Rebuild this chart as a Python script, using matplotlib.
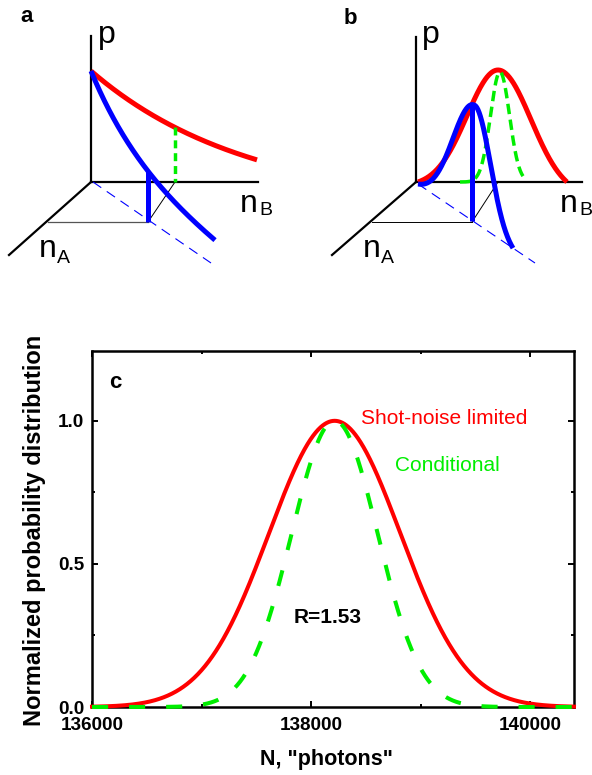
import numpy as np
import matplotlib
matplotlib.use("Agg")
import matplotlib.pyplot as plt

plt.rcParams['font.family'] = ['Liberation Sans', 'DejaVu Sans']

# ---------------- panel c data ----------------
photon_range = [136000, 140400]
shot_center = 138215
shot_sigma = 600
cond_center = 138215
cond_sigma = 392
xticks_major = [136000, 138000, 140000]
xtick_labels = ['136000', '138000', '140000']
xticks_minor = [137000, 139000]
yticks_major = [0.0, 0.5, 1.0]
ytick_labels = ['0.0', '0.5', '1.0']
yticks_minor = [0.25, 0.75]
series_names = ['Shot-noise limited', 'Conditional']
ratio_label = 'R=1.53'

# ---------------- sketch geometry (figure pixels) ----------------
# panel a
a_origin = [91, 182]
a_p_top = [91, 36]
a_nB_end = [258, 182]
a_nA_end = [9, 255]
a_red_x = [91, 257]
a_red_decay = [136.3, 0.00636, -25.3]      # amplitude, rate, offset
a_blue_x = [91, 215]
a_blue_decay = [93.4, 0.0186, 17.6]
a_blue_base_slope = 0.686
a_blue_dash = [[93, 211], [182, 263]]
a_blue_bar_x = 148
a_blue_bar_bottom = 222
a_green_bar_x = 175
a_gray_line = [[48, 148], [222, 222]]
a_thin_line = [[148, 175], [222, 182]]

# panel b
b_origin = [416, 182]
b_p_top = [416, 37]
b_nB_end = [582, 182]
b_nA_end = [332, 255]
b_red = [498, 112, 31, 33, 418, 567]       # centre, height, sigma left, sigma right, start, end
b_green = [500, 110, 9.5, 460, 523]       # centre, height, sigma, start, end
b_blue = [475, 117, 22, 15.5, 418, 513]
b_blue_base = [418, 184, 0.675]
b_blue_dash = [[418, 535], [184, 263]]
b_blue_bar_x = 472
b_blue_bar_bottom = 221
b_thin_h = [[372, 472], [222, 222]]
b_thin_d = [[472, 498], [222, 182]]

W, H = 592, 775
fig = plt.figure(figsize=(W / 100, H / 100), dpi=100)

# ---------------- sketches ----------------
sk = fig.add_axes([0, 0, 1, 1])
sk.set_xlim(0, W)
sk.set_ylim(H, 0)
sk.axis('off')

RED = '#ff0000'
BLUE = '#0000ff'
GREEN = '#00ee00'
AX_LW = 1.6
THICK = 3.6


def bump(x, c, amp, sl, sr, x0, x1):
    s = np.where(x < c, sl, sr)
    g = np.exp(-(x - c) ** 2 / (2 * s ** 2))
    gl = np.exp(-(x0 - c) ** 2 / (2 * sl ** 2))
    gr = np.exp(-(x1 - c) ** 2 / (2 * sr ** 2))
    ge = np.where(x < c, gl, gr)
    return amp * np.clip((g - ge) / (1 - ge), 0, None)


def axes3d(origin, ptop, nb, na):
    sk.plot([origin[0], ptop[0]], [origin[1], ptop[1]], color='k', lw=AX_LW, zorder=2)
    sk.plot([origin[0], nb[0]], [origin[1], nb[1]], color='k', lw=AX_LW, zorder=2)
    sk.plot([origin[0], na[0]], [origin[1], na[1]], color='k', lw=AX_LW, zorder=2)


def axis_labels(px, nbx, nax):
    sk.text(px, 43, 'p', fontsize=23, ha='left', va='baseline')
    sk.text(nbx, 212, 'n', fontsize=23, ha='left', va='baseline')
    sk.text(nbx + 19, 215, 'B', fontsize=14, ha='left', va='baseline')
    sk.text(nax, 257, 'n', fontsize=23, ha='left', va='baseline')
    sk.text(nax + 18, 263, 'A', fontsize=14, ha='left', va='baseline')


# panel a
axes3d(a_origin, a_p_top, a_nB_end, a_nA_end)
sk.plot(*a_gray_line, color='#555555', lw=0.9, zorder=2)
sk.plot(*a_thin_line, color='k', lw=0.7, zorder=2)
sk.plot(*a_blue_dash, color=BLUE, lw=0.8, ls=(0, (9, 6)), zorder=2)

xr = np.linspace(a_red_x[0], a_red_x[1], 300)
yr = a_origin[1] - (a_red_decay[0] * np.exp(-a_red_decay[1] * (xr - a_origin[0])) + a_red_decay[2])
sk.plot(xr, yr, color=RED, lw=THICK, solid_capstyle='butt', zorder=3)

xb = np.linspace(a_blue_x[0], a_blue_x[1], 300)
base_b = a_origin[1] + a_blue_base_slope * (xb - a_origin[0])
yb = base_b - (a_blue_decay[0] * np.exp(-a_blue_decay[1] * (xb - a_origin[0])) + a_blue_decay[2])
sk.plot(xb, yb, color=BLUE, lw=THICK, solid_capstyle='butt', zorder=4)

bar_top = np.interp(a_blue_bar_x, xb, yb)
sk.plot([a_blue_bar_x, a_blue_bar_x], [bar_top, a_blue_bar_bottom], color=BLUE, lw=THICK,
        solid_capstyle='butt', zorder=5)
g_top = np.interp(a_green_bar_x, xr, yr)
sk.plot([a_green_bar_x, a_green_bar_x], [g_top, a_origin[1]], color=GREEN, lw=2.5,
        ls=(0, (2.3, 1.4)), zorder=5)
axis_labels(98, 240, 39)
sk.text(27, 16, 'a', fontsize=16, fontweight='bold', ha='center', va='center')

# panel b
axes3d(b_origin, b_p_top, b_nB_end, b_nA_end)
sk.plot(*b_thin_h, color='k', lw=0.7, zorder=2)
sk.plot(*b_thin_d, color='k', lw=0.7, zorder=2)
sk.plot(*b_blue_dash, color=BLUE, lw=0.8, ls=(0, (9, 6)), zorder=2)

xr = np.linspace(b_red[4], b_red[5], 400)
yr = b_origin[1] - bump(xr, *b_red)
sk.plot(xr, yr, color=RED, lw=THICK, solid_capstyle='butt', zorder=3)

xg = np.linspace(b_green[3], b_green[4], 400)
yg = b_origin[1] - b_green[1] * np.exp(-(xg - b_green[0]) ** 2 / (2 * b_green[2] ** 2))
sk.plot(xg, yg, color=GREEN, lw=2.5, ls=(0, (3, 1.6)), zorder=4)

xb = np.linspace(b_blue[4], b_blue[5], 400)
base_b = b_blue_base[1] + b_blue_base[2] * (xb - b_blue_base[0])
yb = base_b - bump(xb, *b_blue)
sk.plot(xb, yb, color=BLUE, lw=THICK, solid_capstyle='butt', zorder=5)
bar_top = np.interp(b_blue_bar_x, xb, yb)
sk.plot([b_blue_bar_x, b_blue_bar_x], [bar_top, b_blue_bar_bottom], color=BLUE, lw=THICK,
        solid_capstyle='butt', zorder=6)
axis_labels(422, 560, 363)
sk.text(350, 18, 'b', fontsize=16, fontweight='bold', ha='center', va='center')

# ---------------- panel c ----------------
L, R, T, B = 92, 574, 350.7, 707
ax = fig.add_axes([L / W, (H - B) / H, (R - L) / W, (B - T) / H])
x = np.linspace(photon_range[0], photon_range[1], 2000)
shot = np.exp(-(x - shot_center) ** 2 / (2 * shot_sigma ** 2))
cond = np.exp(-(x - cond_center) ** 2 / (2 * cond_sigma ** 2))
ax.plot(x, shot, color=RED, lw=2.9, zorder=3, clip_on=False)
ax.plot(x, cond, color=GREEN, lw=2.9, ls=(0, (4.0, 5.2)), zorder=4, clip_on=False)
ax.set_xlim(*photon_range)
ax.set_ylim(0, 1.245)
ax.set_xticks(xticks_major)
ax.set_xticklabels(xtick_labels)
ax.set_xticks(xticks_minor, minor=True)
ax.set_yticks(yticks_major)
ax.set_yticklabels(ytick_labels)
ax.set_yticks(yticks_minor, minor=True)
for s in ax.spines.values():
    s.set_linewidth(1.8)
    s.set_zorder(2)
ax.tick_params(which='both', direction='in', top=True, right=True, width=1.4)
ax.tick_params(which='major', length=4)
ax.tick_params(which='minor', length=2.5)
ax.tick_params(axis='x', which='major', pad=7.5)
ax.tick_params(axis='y', which='major', pad=5.5)
for lab in ax.get_xticklabels() + ax.get_yticklabels():
    lab.set_fontsize(13.6)
    lab.set_fontweight('bold')

ax.text(136209, 1.135, 'c', fontsize=16, fontweight='bold', ha='center', va='center')
ax.text(138455, 1.009, series_names[0], color=RED, fontsize=15, ha='left', va='center')
ax.text(138764, 0.845, series_names[1], color=GREEN, fontsize=15, ha='left', va='center')
ax.text(137836, 0.311, ratio_label, color='k', fontsize=15, fontweight='bold', ha='left', va='center')

fig.text(35 / W, 1 - 530 / H, 'Normalized probability distribution', rotation=90,
         fontsize=17, fontweight='bold', ha='center', va='center')
fig.text(326 / W, 1 - 760 / H, 'N, "photons"', fontsize=15.5, fontweight='bold',
         ha='center', va='center')

fig.savefig('out.png', dpi=100)
